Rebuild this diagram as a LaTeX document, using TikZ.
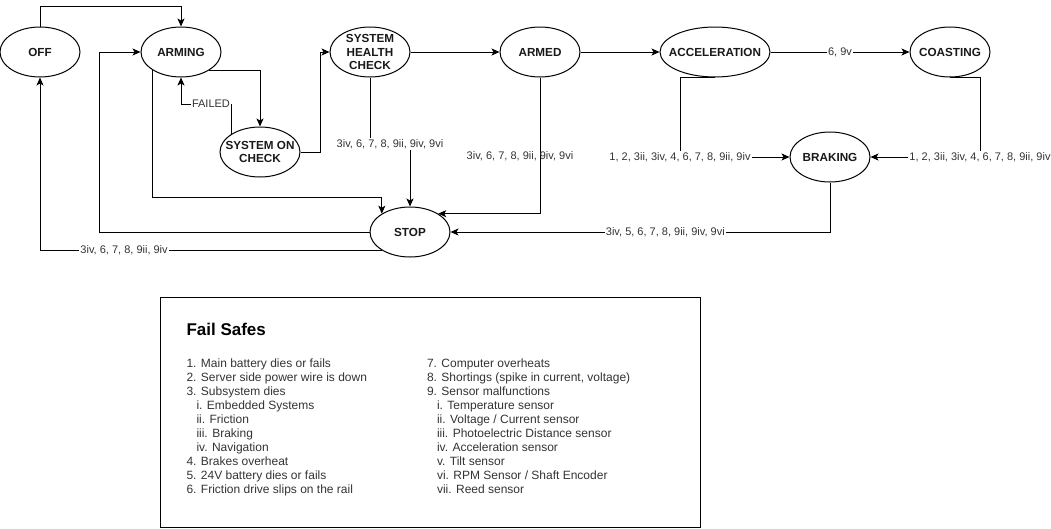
\documentclass[tikz,border=0pt]{standalone}
\usepackage{fontspec}
\setmainfont{Liberation Sans}
\usetikzlibrary{shapes.geometric,arrows.meta}
\begin{document}
\begin{tikzpicture}[x=1pt,y=-1pt,line width=1pt,
  state/.style={ellipse,draw,minimum width=80pt,minimum height=50pt,inner sep=0pt},
  stext/.style={font=\fontsize{11.7}{13.7}\selectfont\bfseries,align=center,inner sep=0pt,text=black!90},
  arr/.style={-{Stealth[length=8pt,width=7pt,inset=2pt]}},
  lbl/.style={fill=white,inner sep=1pt,font=\fontsize{11}{13}\selectfont,text=black!80},
  listtext/.style={align=left,inner sep=0pt,anchor=north west,font=\fontsize{12}{14}\selectfont,text=black!80}
]
\useasboundingbox (0,0) rectangle (1051,528);

% states
\node[state,label={[stext]center:OFF}] (off) at (40,52) {};
\node[state,label={[stext]center:ARMING}] (arming) at (181,52) {};
\node[state,label={[stext]center:SYSTEM\\HEALTH\\CHECK}] (shc) at (370,52) {};
\node[state,label={[stext]center:SYSTEM ON\\CHECK}] (soc) at (260,152) {};
\node[state,label={[stext]center:STOP}] (stop) at (410,232) {};
\node[state,label={[stext]center:ARMED}] (armed) at (540,52) {};
\node[state,minimum width=110pt,label={[stext]center:ACCELERATION}] (acc) at (715,52) {};
\node[state,label={[stext]center:COASTING}] (coast) at (950,52) {};
\node[state,label={[stext]center:BRAKING}] (brake) at (830,157) {};

% connectors
\draw[arr] (off.north) -- ++(0,-20) -| (arming.north);
\draw[arr] (stop.west) -- ++(-270,0) |- (arming.west);
\draw[arr] (stop.213) -| node[lbl,pos=0.377] {3iv, 6, 7, 8, 9ii, 9iv} (off.south);
\draw[arr] (arming.212) -- (arming.212 |- 0,197) -| (stop.147);
\draw[arr] (arming.-33) -| (soc.north);
\draw[arr] (soc.147) -- (soc.147 |- 0,104) -- node[lbl,pos=0.41] {FAILED} (arming.south |- 0,104) -- (arming.south);
\draw[arr] (soc.east) -- ++(20,0) |- (shc.west);
\draw[arr] (shc.south) -- (shc.south |- 0,144) -- node[lbl] {3iv, 6, 7, 8, 9ii, 9iv, 9vi} (stop.north |- 0,144) -- (stop.north);
\draw[arr] (armed.south) |- node[lbl,fill=none,pos=0.29,xshift=-20pt] {3iv, 6, 7, 8, 9ii, 9iv, 9vi} (stop.33);
\draw[arr] (shc.east) -- (armed.west);
\draw[arr] (armed.east) -- (acc.west);
\draw[arr] (acc.east) -- node[lbl] {6, 9v} (coast.west);
\draw[arr] (acc.south) -- ++(-35,0) |- node[lbl,pos=0.5] {1, 2, 3ii, 3iv, 4, 6, 7, 8, 9ii, 9iv} (brake.west);
\draw[arr] (coast.south) -- ++(30,0) |- node[lbl,pos=0.5] {1, 2, 3ii, 3iv, 4, 6, 7, 8, 9ii, 9iv} (brake.east);
\draw[arr] (brake.south) |- node[lbl,pos=0.717] {3iv, 5, 6, 7, 8, 9ii, 9iv, 9vi} (stop.east);

% fail safes box
\node[draw,minimum width=540pt,minimum height=230pt,anchor=north west,inner sep=0pt] (fs) at (160,297) {};
\node[anchor=base west,inner sep=0pt,font=\fontsize{17}{20}\selectfont\bfseries] (fstitle) at (186,335) {Fail Safes};
\node[listtext] (fsleft) at (186,358.5) {1. Main battery dies or fails\\
2. Server side power wire is down\\
3. Subsystem dies\\
\hspace*{10pt}i. Embedded Systems\\
\hspace*{10pt}ii. Friction\\
\hspace*{10pt}iii. Braking\\
\hspace*{10pt}iv. Navigation\\
4. Brakes overheat\\
5. 24V battery dies or fails\\
6. Friction drive slips on the rail};
\node[listtext] (fsright) at (426.5,358.5) {7. Computer overheats\\
8. Shortings (spike in current, voltage)\\
9. Sensor malfunctions\\
\hspace*{10pt}i. Temperature sensor\\
\hspace*{10pt}ii. Voltage / Current sensor\\
\hspace*{10pt}iii. Photoelectric Distance sensor\\
\hspace*{10pt}iv. Acceleration sensor\\
\hspace*{10pt}v. Tilt sensor\\
\hspace*{10pt}vi. RPM Sensor / Shaft Encoder\\
\hspace*{10pt}vii. Reed sensor};
\end{tikzpicture}
\end{document}
